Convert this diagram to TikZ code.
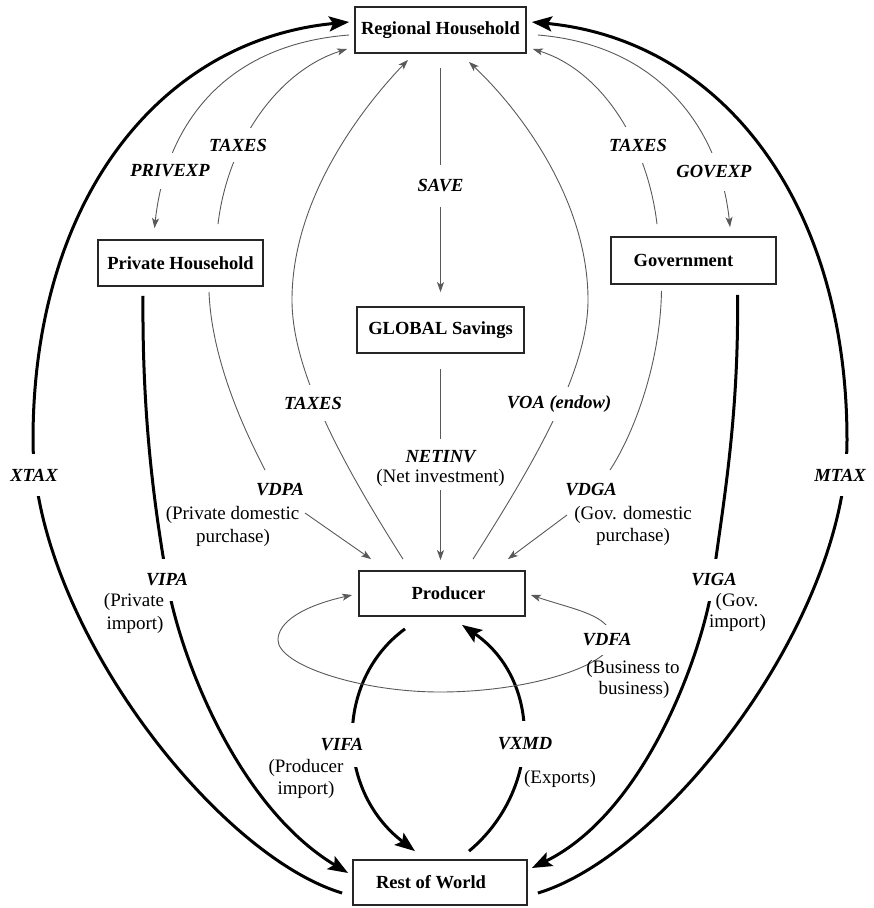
\documentclass[tikz,border=0pt]{standalone}
\usepackage{fontspec}
\setmainfont{Liberation Serif}
\usetikzlibrary{arrows.meta,calc}
\tikzset{
  smalltip/.tip={Stealth[length=10pt,width=7pt,inset=2.5pt]},
  bigtip/.tip={Stealth[length=20pt,width=15pt,inset=4pt]},
}
\begin{document}
\begin{tikzpicture}[x=1pt,y=-1pt,
  box/.style={draw=black!85, line width=1.8pt, fill=white, inner sep=0pt, font=\fontsize{18.5}{20}\selectfont\bfseries},
  thinln/.style={draw=black!65, line width=0.9pt},
  thinarr/.style={thinln, -smalltip},
  thickln/.style={draw=black, line width=3pt},
  thickarr/.style={thickln, -bigtip},
  vlab/.style={fill=white, inner xsep=2pt, font=\fontsize{18.5}{20}\selectfont\bfseries\itshape},
  ptext/.style={inner sep=0pt, font=\fontsize{19}{20}\selectfont},
]
\useasboundingbox (0,0) rectangle (874,908);

% boxes
\node[box, minimum width=171pt, minimum height=46pt] (RH) at (440.5,30) {Regional Household};
\node[box, minimum width=165pt, minimum height=46pt] (PH) at (180.5,263) {Private Household};
\node[box, minimum width=165pt, minimum height=47pt] (GOV) at (693.5,260.5) {\hspace*{-20pt}Government};
\node[box, minimum width=167pt, minimum height=46pt] (GS) at (440.5,330) {GLOBAL Savings};
\node[box, minimum width=166pt, minimum height=45pt] (PR) at (442,593.5) {\hspace*{13pt}Producer};
\node[box, minimum width=174pt, minimum height=45pt] (RW) at (440,882.5) {\hspace*{-18pt}Rest of World};

% free ends
\coordinate (vdpaEnd) at (265,470);
\coordinate (vdpaArr) at (305,513);
\coordinate (vdgaEnd) at (610,470);
\coordinate (vdgaArr) at (567,515);

% outer thick arcs
\draw[thickarr] ($(RW.west)+(-10,10.5)$) .. controls (215,855) and (33,620) .. (33,440)
   .. controls (33,200) and (160,40) .. ($(RH.west)+(-5,-8)$);
\draw[thickarr] ($(RW.east)+(10,10.5)$) .. controls (665,855) and (847,620) .. (847,440)
   .. controls (847,200) and (720,40) .. ($(RH.east)+(5,-8)$);

% top thin arcs
\draw[thinarr] ($(RH.west)+(-5,5)$) .. controls (220,45) and (165,130) .. ($(PH.north)+(-26,-11)$);
\draw[thinarr] ($(PH.north)+(37.5,-15)$) .. controls (228,140) and (280,70) .. ($(RH.west)+(-7,19)$);
\draw[thinarr] ($(RH.east)+(11,5)$) .. controls (660,45) and (720,130) .. ($(GOV.north)+(36.5,-9)$);
\draw[thinarr] ($(GOV.north)+(-36.5,-12)$) .. controls (647,140) and (600,70) .. ($(RH.east)+(6,19)$);

% vertical
\draw[thinarr] ($(RH.south)+(0,14)$) -- ($(GS.north)+(0,-14)$);
\draw[thinarr] ($(GS.south)+(0,15)$) -- ($(PR.north)+(-1.5,-10)$);

% producer to regional household
\draw[thinarr] ($(PR.north)+(-39,-11)$) .. controls (340,460) and (292,370) .. (292,300)
   .. controls (292,200) and (360,110) .. ($(RH.south)+(-32.5,6)$);
\draw[thinarr] ($(PR.north)+(31,-11)$) .. controls (536,460) and (588,370) .. (588,300)
   .. controls (588,200) and (520,110) .. ($(RH.south)+(28.5,8)$);

% domestic purchases
\draw[thinln] ($(PH.south)+(28.5,5)$) .. controls (212,370) and (255,450) .. (vdpaEnd);
\draw[thinarr] (vdpaArr) -- ($(PR.north west)+(13,-11)$);
\draw[thinln] ($(GOV.south)+(-32,6)$) .. controls (660,370) and (630,440) .. (vdgaEnd);
\draw[thinarr] (vdgaArr) -- ($(PR.north east)+(-18,-11)$);

% imports
\draw[thickarr] ($(PH.south)+(-37.5,9)$) .. controls (142,420) and (155,510) .. (167,580)
   .. controls (178,650) and (235,805) .. ($(RW.west)+(-4,-9.5)$);
\draw[thickarr] ($(GOV.south)+(44,10)$) .. controls (739,420) and (722,510) .. (713,580)
   .. controls (706,640) and (650,810) .. ($(RW.east)+(4,-14.5)$);
\draw[thickarr] ($(PR.south)+(-37,12)$) .. controls (335,680) and (335,790) .. ($(RW.north)+(-25,-8)$);
\draw[thickarr] ($(RW.north)+(29,-8)$) .. controls (542,790) and (542,680) .. ($(PR.south)+(20,8)$);

% business to business loop
\draw[thinln, smalltip-smalltip] ($(PR.west)+(-6,1.5)$) .. controls (303,606) and (278,622) .. (278,640)
   .. controls (278,665) and (360,692) .. (440,692)
   .. controls (530,692) and (612,665) .. (612,640)
   .. controls (612,615) and (575,610) .. ($(PR.east)+(5,1.5)$);

% labels on lines
\node[vlab, inner ysep=15pt] (lXTAX) at (34,475) {XTAX};
\node[vlab, inner ysep=15pt] (lMTAX) at (840,475) {MTAX};
\node[vlab, inner ysep=12pt] (lPRIVEXP) at (170,171) {PRIVEXP};
\node[vlab, inner ysep=11pt] (lTAXp) at (238,145) {TAXES};
\node[vlab, inner ysep=13pt] (lGOVEXP) at (714,172) {GOVEXP};
\node[vlab, inner ysep=12pt] (lTAXg) at (638,145) {TAXES};
\node[vlab, inner ysep=15pt] (lSAVE) at (440.5,186) {SAVE};
\node[vlab, inner ysep=12pt] (lTAXpr) at (313,403) {TAXES};
\node[vlab, inner ysep=9pt] (lVOA) at (559,404) {VOA (endow)};
\node[vlab, inner ysep=12pt] (lNETINV) at (440.5,457) {NETINV};
\node[ptext, fill=white, inner ysep=3pt] (lNetInv) at (440.5,478) {(Net investment)};
\node[vlab, inner ysep=4pt] (lVDPA) at (280,490) {VDPA};
\node[vlab, inner ysep=4pt] (lVDGA) at (591,490) {VDGA};
\node[vlab, inner ysep=15pt] (lVIPA) at (167,580) {VIPA};
\node[vlab, inner ysep=15pt] (lVIGA) at (714,580) {VIGA};
\node[vlab, inner ysep=16pt] (lVIFA) at (342,745) {VIFA};
\node[vlab, inner ysep=17pt] (lVXMD) at (525,744) {VXMD};
\node[vlab, inner ysep=9pt] (lVDFA) at (607,640) {VDFA};

% explanatory texts
\node[ptext] (lPDom) at (232.5,515) {(Private domestic};
\node[ptext] (lPPur) at (233,538) {purchase)};
\node[ptext] (lGDom) at (633,515) {(Gov. domestic};
\node[ptext] (lGPur) at (633,537) {purchase)};
\node[ptext] (lPriv) at (134,602) {(Private};
\node[ptext] (lPImp) at (135,625) {import)};
\node[ptext] (lGov) at (737,602) {(Gov.};
\node[ptext] (lGImp) at (737.5,623) {import)};
\node[ptext] (lPPr) at (306,768) {(Producer};
\node[ptext] (lPIm) at (306,790) {import)};
\node[ptext] (lExp) at (560,779) {(Exports)};
\node[ptext] (lBus) at (633,669) {(Business to};
\node[ptext] (lBus2) at (634,690) {business)};
\end{tikzpicture}
\end{document}
